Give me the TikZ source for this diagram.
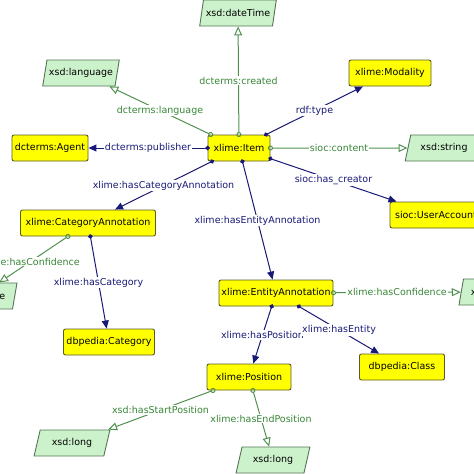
\documentclass[tikz,border=0pt]{standalone}
\usepackage{fontspec}
\setmainfont{DejaVu Sans}
\usetikzlibrary{arrows.meta,shapes.geometric}
\definecolor{classfill}{RGB}{255,255,0}
\definecolor{classline}{RGB}{90,90,40}
\definecolor{litfill}{RGB}{204,242,204}
\definecolor{litline}{RGB}{85,115,85}
\definecolor{objblue}{RGB}{25,25,120}
\definecolor{datagreen}{RGB}{80,145,80}
\definecolor{datatext}{RGB}{55,135,55}
\tikzset{
  classnode/.style={draw=classline,fill=classfill,rounded corners=2pt,minimum height=26pt,inner xsep=2pt,line width=0.9pt},
  litnode/.style={trapezium,trapezium left angle=75,trapezium right angle=105,trapezium stretches=true,
    draw=litline,fill=litfill,minimum height=26pt,inner xsep=2pt,line width=0.9pt},
  objedge/.style={objblue,line width=1pt,{Circle[length=4.5pt]}-{Triangle[length=8pt,width=7pt]},shorten <=-2.25pt},
  dataedge/.style={datagreen,line width=1pt,{Circle[open,length=5pt]}-{Triangle[open,length=9pt,width=8pt]},shorten <=-2.5pt},
  objlabel/.style={fill=white,text=objblue,inner sep=1pt},
  datalabel/.style={fill=white,text=datatext,inner sep=1pt}
}
\begin{document}
\begin{tikzpicture}[x=1pt,y=-1pt,font=\fontsize{9.5}{11}\selectfont]
    \path[use as bounding box] (0,0) rectangle (474,474);
    \clip (0,0) rectangle (474,474);

    % classes
    \node[classnode,minimum width=62pt] (item) at (239,148) {xlime:Item};
    \node[classnode,minimum width=82pt] (modality) at (390,73) {xlime:Modality};
    \node[classnode,minimum width=76pt] (agent) at (50,148) {dcterms:Agent};
    \node[classnode,minimum width=92pt] (user) at (436,215) {sioc:UserAccount};
    \node[classnode,minimum width=135pt] (catann) at (88,223) {xlime:CategoryAnnotation};
    \node[classnode,minimum width=114pt] (entann) at (276,293) {xlime:EntityAnnotation};
    \node[classnode,minimum width=91pt] (category) at (109,342) {dbpedia:Category};
    \node[classnode,minimum width=84pt] (position) at (249,377) {xlime:Position};
    \node[classnode,minimum width=85pt] (class) at (402,367) {dbpedia:Class};

    % literals
    \node[litnode,minimum width=77pt] (datetime) at (238,13) {xsd:dateTime};
    \node[litnode,minimum width=75pt] (language) at (81,73) {xsd:language};
    \node[litnode,minimum width=78pt] (string) at (444,148) {xsd:string};
    \node[litnode,minimum width=76pt] (confleft) at (-21,296) {xsd:double};
    \node[litnode,minimum width=76pt] (confright) at (497,292) {xsd:double};
    \node[litnode,minimum width=76pt] (startlong) at (72,443) {xsd:long};
    \node[litnode,minimum width=74pt] (endlong) at (273,460) {xsd:long};

    % properties of the item
    \draw[dataedge] (item) -- node[datalabel]{dcterms:created} (datetime);
    \draw[dataedge] (item) -- node[datalabel]{dcterms:language} (language);
    \draw[objedge] (item) -- node[objlabel]{dcterms:publisher} (agent);
    \draw[objedge] (item) -- node[objlabel]{rdf:type} (modality);
    \draw[dataedge] (item) -- node[datalabel]{sioc:content} (string);
    \draw[objedge] (item) -- node[objlabel]{sioc:has\_creator} (user);
    \draw[objedge] (item) -- node[objlabel]{xlime:hasCategoryAnnotation} (catann);
    \draw[objedge] (item) -- node[objlabel]{xlime:hasEntityAnnotation} (entann);

    % annotations
    \draw[dataedge] (catann) -- node[datalabel,pos=0.55]{xlime:hasConfidence} (confleft);
    \draw[objedge] (catann) -- node[objlabel]{xlime:hasCategory} (category);
    \draw[dataedge] (entann) -- node[datalabel]{xlime:hasConfidence} (confright);
    \draw[objedge] (entann) -- node[objlabel]{xlime:hasPosition} (position);
    \draw[objedge] (entann) -- node[objlabel]{xlime:hasEntity} (class);

    % position
    \draw[dataedge] (position) -- node[datalabel]{xsd:hasStartPosition} (startlong);
    \draw[dataedge] (position) -- node[datalabel]{xlime:hasEndPosition} (endlong);
\end{tikzpicture}
\end{document}
